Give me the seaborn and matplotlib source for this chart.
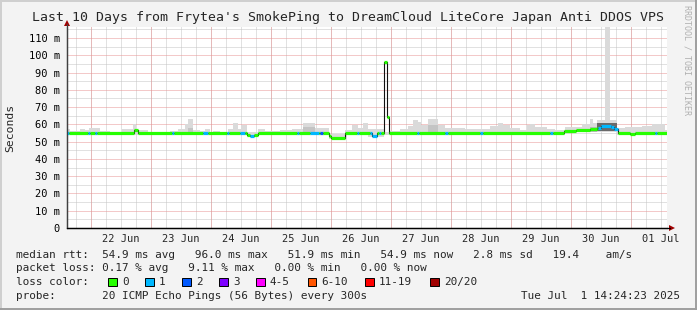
import numpy as np
import pandas as pd
import matplotlib
matplotlib.use("Agg")
import matplotlib.pyplot as plt
import seaborn as sns
from matplotlib.patches import Rectangle, Polygon
from matplotlib.lines import Line2D

# ---------------- data (hours since Sat Jun 21 14:24, ms) ----------------
med_start = [0, 26.8, 28.4, 72, 73.2, 74.8, 76.4, 104.8, 105.6, 111.2, 122, 124,
             126.8, 128, 128.8, 198.8, 203.6, 209.2, 212, 213.6, 217.6, 218.8,
             220.4, 225.2, 227.2]
med_ms = [54.9, 57.0, 54.9, 54.0, 53.0, 54.0, 54.9, 53.0, 52.0, 54.9, 53.5, 54.9,
          96.0, 64.0, 54.9, 56.3, 56.8, 57.3, 58.2, 59.0, 58.5, 57.2,
          54.9, 54.2, 54.9]

loss_start = [0, 8.4, 11.2, 42, 54.4, 64, 69.2, 73.2, 92, 97.2, 101.2, 116, 121.2,
              124.8, 140, 151.2, 165.2, 193.2, 212.4, 235.2]
loss_end = [0.8, 9.2, 12, 42.8, 56.4, 64.8, 71.2, 74.8, 92.8, 100.8, 102.4, 116.8, 124,
            125.6, 140.8, 152.4, 166.4, 194.4, 220.4, 236]
loss_pings = [1, 1, 1, 1, 1, 1, 1, 1, 1, 1, 2, 1, 1, 1, 1, 1, 1, 1, 1, 1]

smoke_start = [0, 1.2, 5.2, 7.2, 8.8, 11.2, 13.2, 16, 17.2, 22, 26.4, 27.6, 32.4, 41.2,
               44.4, 47.2, 48.4, 50.4, 53.2, 55.2, 57.2, 58.4, 61.2, 64.4, 66.4, 68.4,
               69.6, 72, 76.4, 79.2, 85.2, 90, 94.4, 99.2, 104.8, 111.2, 114, 116.4,
               118.4, 120.4, 126.8, 128.8, 133.2, 136.4, 138.4, 140.4, 141.6, 144.4,
               148.4, 151.2, 155.2, 159.2, 169.2, 172.4, 174.4, 177.2, 181.2, 184,
               185.2, 187.2, 192, 195.2, 199.2, 206, 209.2, 210.4, 212, 215.2, 217.2,
               220, 223.2, 230, 234, 239.2]
smoke_top = [57.4, 56.2, 57.4, 56.8, 57.8, 58.1, 56.0, 56.2, 55.6, 57.4, 60.3, 56.8,
             55.6, 56.0, 57.4, 60.1, 63.2, 56.8, 56.0, 57.4, 55.6, 56.2, 55.6, 57.4,
             60.7, 57.4, 59.4, 55.8, 57.4, 56.0, 56.8, 57.4, 60.7, 57.8, 54.5, 56.8,
             59.7, 58.0, 60.7, 57.4, 55.5, 56.0, 57.4, 59.0, 62.6, 61.1, 59.7, 63.3,
             59.7, 58.0, 57.8, 57.6, 58.8, 60.7, 59.7, 57.8, 56.8, 59.7, 60.1, 58.5,
             57.4, 56.8, 58.5, 60.1, 63.3, 60.7, 62.6, 118.0, 62.6, 57.8, 58.3, 59.1,
             60.0, 57.0]
smoke_low = [54.0, 54.0, 54.0, 54.0, 54.0, 54.0, 54.0, 54.0, 54.0, 54.0, 54.0, 54.0,
             54.0, 54.0, 54.0, 54.0, 54.0, 54.0, 54.0, 54.0, 54.0, 54.0, 54.0, 54.0,
             54.0, 54.0, 54.0, 52.5, 54.0, 54.0, 54.0, 54.0, 54.0, 54.0, 51.3, 54.0,
             54.0, 54.0, 54.0, 52.5, 54.0, 54.0, 54.0, 54.0, 54.0, 54.0, 54.0, 54.0,
             54.0, 54.0, 54.0, 54.0, 54.0, 54.0, 54.0, 54.0, 54.0, 54.0, 54.0, 54.0,
             54.0, 54.0, 55.5, 55.5, 55.5, 55.5, 55.5, 55.5, 55.5, 54.0, 54.0, 54.0,
             54.0, 54.0]

core_start = [48.4, 94.4, 144.4, 209.2, 212]
core_end = [50.4, 99.2, 148.4, 212, 220]
core_low = [55.5, 55.5, 55.5, 55.8, 56.3]
core_top = [58.0, 58.5, 59.5, 58.5, 60.8]
core_col = ['#c4c4c4', '#c4c4c4', '#c4c4c4', '#b8b8b8', '#6a6a6a']

day_labels = ['22 Jun', '23 Jun', '24 Jun', '25 Jun', '26 Jun', '27 Jun',
              '28 Jun', '29 Jun', '30 Jun', '01 Jul']
y_ticks = [0, 10, 20, 30, 40, 50, 60, 70, 80, 90, 100, 110]
y_labels = ['0', '10 m', '20 m', '30 m', '40 m', '50 m', '60 m', '70 m', '80 m',
            '90 m', '100 m', '110 m']

loss_names = ['0', '1', '2', '3', '4-5', '6-10', '11-19', '20/20']
loss_colors = ['#26ff00', '#00b8ff', '#0059ff', '#7e00ff', '#ff00ff', '#ff5500',
               '#ff0000', '#a00000']

title = "Last 10 Days from Frytea's SmokePing to DreamCloud LiteCore Japan Anti DDOS VPS"
line1 = "median rtt:  54.9 ms avg   96.0 ms max   51.9 ms min   54.9 ms now   2.8 ms sd   19.4    am/s"
line2 = "packet loss: 0.17 % avg   9.11 % max   0.00 % min   0.00 % now"
line3 = "loss color:"
line4 = "probe:       20 ICMP Echo Pings (56 Bytes) every 300s"
stamp = "Tue Jul  1 14:24:23 2025"

# ---------------- figure ----------------
sns.set_style("white")
plt.rcParams['font.family'] = ['DejaVu Sans Mono', 'DejaVu Sans']

W, H = 697, 310
fig = plt.figure(figsize=(W / 100, H / 100), dpi=100, facecolor='#f3f3f3')
L, R, T, B = 67, 667, 27, 228
ax = fig.add_axes([L / W, 1 - B / H, (R - L) / W, (B - T) / H])
ax.set_facecolor('white')
XMAX, YMAX = 240.0, 116.4
ax.set_xlim(0, XMAX)
ax.set_ylim(0, YMAX)

# grid (dotted)
dot = (0, (1, 1))
for v in np.arange(5, YMAX, 10):
    ax.axhline(v, color='#c4c4c4', lw=0.72, ls=dot, zorder=0)
for v in np.arange(10, YMAX, 10):
    ax.axhline(v, color='#e99494', lw=0.72, ls=dot, zorder=0.1)
for v in np.arange(3.6, XMAX, 6):
    ax.axvline(v, color='#c4c4c4', lw=0.72, ls=dot, zorder=0)
for v in np.arange(9.6, XMAX, 24):
    ax.axvline(v, color='#e99494', lw=0.72, ls=dot, zorder=0.1)

# smoke
widths = np.diff(smoke_start + [XMAX])
ax.bar(smoke_start, np.array(smoke_top) - np.array(smoke_low), bottom=smoke_low,
       width=widths, align='edge', color='#dadada', linewidth=0, zorder=1)
ax.bar(core_start, np.array(core_top) - np.array(core_low), bottom=core_low,
       width=np.array(core_end) - np.array(core_start), align='edge',
       color=core_col, linewidth=0, zorder=1.1)

# median (thin black steps)
med_df = pd.DataFrame({'h': med_start + [XMAX], 'ms': med_ms + [med_ms[-1]]})
sns.lineplot(data=med_df, x='h', y='ms', drawstyle='steps-post', color='#101010',
             lw=0.8, ax=ax, zorder=2, sort=False, estimator=None)

# coloured median segments by loss
def loss_at(t):
    for s, e, p in zip(loss_start, loss_end, loss_pings):
        if s <= t < e:
            return p
    return 0

def med_at(t):
    idx = np.searchsorted(med_start, t, side='right') - 1
    return med_ms[idx]

bps = sorted(set(med_start + loss_start + loss_end + [XMAX]))
for a, b in zip(bps[:-1], bps[1:]):
    m = (a + b) / 2
    p = loss_at(m)
    ci = 0 if p == 0 else (1 if p == 1 else (2 if p == 2 else 3))
    ax.hlines(med_at(m), a, b, colors=loss_colors[ci], lw=2.3, zorder=3)

# axes styling
for s in ['top', 'right']:
    ax.spines[s].set_visible(False)
ax.spines['left'].set_color('#404040')
ax.spines['bottom'].set_color('#000000')
ax.spines['left'].set_linewidth(0.9)
ax.spines['bottom'].set_linewidth(0.9)

ax.set_yticks(y_ticks)
ax.set_yticklabels(y_labels)
ax.set_yticks(np.arange(5, YMAX, 10), minor=True)
ax.set_xticks(np.arange(21.6, XMAX, 24))
ax.set_xticklabels(day_labels)
ax.set_xticks(np.arange(3.6, XMAX, 6), minor=True)
ax.tick_params(axis='y', which='major', length=3, width=0.7, color='#404040',
               pad=2.0, labelsize=7.5, labelcolor='#000000')
ax.tick_params(axis='y', which='minor', length=1.5, width=0.7, color='#404040')
ax.tick_params(axis='x', which='major', length=0, pad=4, labelsize=7.5)
ax.tick_params(axis='x', which='minor', length=1.5, width=0.7, color='#808080',
               direction='inout')
ax.set_xlabel('')
ax.set_ylabel('')

# axis lines extended with arrows
fig.add_artist(Line2D([L / W, L / W], [1 - B / H, 1 - 24 / H], color='#404040', lw=0.9))
fig.add_artist(Line2D([L / W, 670 / W], [1 - B / H, 1 - B / H], color='#000000', lw=0.9))
fig.add_artist(Polygon([[(L - 3) / W, 1 - 26 / H], [(L + 3) / W, 1 - 26 / H],
                        [L / W, 1 - 20 / H]], closed=True, facecolor='#a00000',
                       edgecolor='none'))
fig.add_artist(Polygon([[669 / W, 1 - (B - 3) / H], [669 / W, 1 - (B + 3) / H],
                        [675 / W, 1 - B / H]], closed=True, facecolor='#a00000',
                       edgecolor='none'))

# texts
fig.text(348 / W, 1 - 18 / H, title, ha='center', va='center', fontsize=9.5)
fig.text(10 / W, 1 - 128 / H, 'Seconds', rotation=90, ha='center', va='center',
         fontsize=8.2)
fig.text(687 / W, 1 - 5 / H, 'RRDTOOL / TOBI OETIKER', rotation=270, ha='center',
         va='top', fontsize=6, color='#b0b0b0')

fs = 7.9
fig.text(16 / W, 1 - 254.7 / H, line1, ha='left', va='center', fontsize=fs)
fig.text(16 / W, 1 - 268.3 / H, line2, ha='left', va='center', fontsize=fs)
fig.text(16 / W, 1 - 282 / H, line3, ha='left', va='center', fontsize=fs)
fig.text(16 / W, 1 - 296 / H, line4, ha='left', va='center', fontsize=fs)
fig.text(680 / W, 1 - 296 / H, stamp, ha='right', va='center', fontsize=fs)

sw_x = [108, 145, 182, 219, 256, 307.5, 365, 430]
for xs, name, col in zip(sw_x, loss_names, loss_colors):
    fig.add_artist(Rectangle((xs / W, 1 - 286 / H), 8.5 / W, 8.5 / H,
                             facecolor=col, edgecolor='black', lw=0.7))
    fig.text((xs + 14) / W, 1 - 282 / H, name, ha='left', va='center', fontsize=fs)

# frame
fig.add_artist(Line2D([0, 1], [1 - 0.5 / H, 1 - 0.5 / H], color='#cfcfcf', lw=1.4))
fig.add_artist(Line2D([0.5 / W, 0.5 / W], [0, 1], color='#cfcfcf', lw=1.4))
fig.add_artist(Line2D([0, 1], [1.5 / H, 1.5 / H], color='#9e9e9e', lw=1.4))
fig.add_artist(Line2D([1 - 1.5 / W, 1 - 1.5 / W], [0, 1], color='#9e9e9e', lw=1.4))

fig.savefig('out.png', dpi=100, facecolor=fig.get_facecolor())
